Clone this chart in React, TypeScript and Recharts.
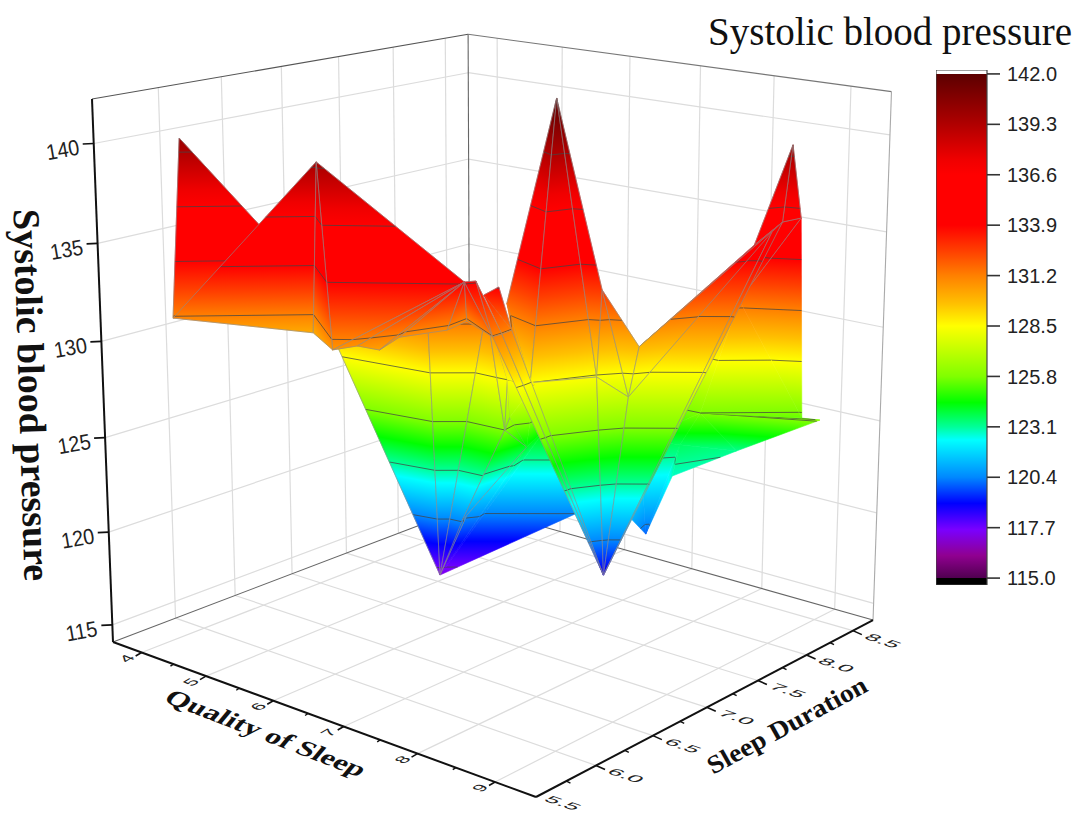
import { ScatterChart, Scatter, XAxis, YAxis, BarChart, Bar } from 'recharts'

// surface vertices
const vertexNames = ['a','b','a2','D','d1','d2','E','f1','f2','f3','f4','f5','E2','rb1','rb2','G','F','rbR',
  'P2','P1','t1','t2','t3','p5','b1','b2','b3','p6','h1','pb','hb','M','m0','v2','v3','mr',
  'c0','n0','q1','q2','s0','Q','r1','r0','u0','w2','R','m1','n1','w3','P3','h3','h4']
const quality = [3.98,4.06,5.15,5.64,5.10,5.99,6.97,6.13,6.20,6.28,6.47,6.44,7.03,7.13,7.13,7.09,7.37,7.11,
  7.95,6.10,5.05,6.34,6.81,6.30,6.95,6.96,7.02,6.78,7.36,7.21,6.76,6.94,6.64,7.27,7.62,7.57,
  7.85,7.93,8.81,8.73,8.63,8.98,9.01,8.99,8.40,8.16,9.33,8.25,8.08,7.80,7.98,7.48,7.96]
const duration = [5.93,5.80,6.40,6.12,6.37,6.03,6.54,6.15,6.29,6.41,6.70,6.89,6.60,6.68,6.76,6.63,6.58,6.86,
  7.14,6.85,6.60,6.61,6.83,6.93,6.90,6.94,6.88,7.21,6.90,7.47,7.39,7.37,7.12,6.92,7.29,7.37,
  7.43,7.47,8.20,8.16,8.06,8.15,8.23,8.31,8.10,7.91,8.22,8.22,7.70,7.98,7.52,7.81,7.34]
const pressure = [140.0,131.1,132.4,139.6,130.2,130.7,134.0,130.8,130.4,130.9,130.9,131.0,134.0,131.15,131.15,133.3,134.0,131.15,
  118.7,117.3,129.0,131.9,132.0,120.3,125.8,126.4,128.5,124.1,128.5,120.6,124.6,142.0,131.7,128.5,128.4,132.7,
  127.3,129.9,135.8,135.3,134.7,139.9,136.1,125.5,131.6,125.8,125.9,123.2,122.8,123.6,120.0,123.9,121.5]

// triangles, listed back to front; a leading ~ means no mesh outline
const facets = [
  '~P1 p5 p6','~p6 hb h1','~P1 pb hb','~P1 hb p6',
  '~P3 h4 h3','~P3 n1 w3','~P3 w3 h3','~h3 w3 w2','~w3 n1 m1','~w3 m1 w2','~w2 m1 R','~w2 R r0',
  '~u0 w2 h3','~u0 r1 r0','~u0 r0 w2','q1 r1 u0','Q q1 r1','s0 q1 Q','s0 q1 n0',
  'M m0 v2','~m0 rbR v2','M v2 v3','M v3 mr','mr v3 c0','mr c0 n0','v2 v3 P2','v3 c0 P2','n0 c0 q1','c0 q2 P2','q2 q1 P2',
  't1 P1 t2','t2 P1 t3','t3 P1 b1','P1 p5 b1','p5 p6 b1','b1 p6 b2','t3 b1 b3','b1 b2 b3','~b3 b2 h1','~b2 p6 h1','~t3 b3 h1',
  'a b a2','G F rbR','~G rbR rb2','b D d1','D E d2','D d1 d2','d2 E f1','f1 E f2','f2 E f3','f3 E f4','f4 E f5','f5 E rb1',
  'E E2 rb1','E2 rb2 rb1','rb1 rb2 P2','rb2 rbR P2',
]

const qualityTicks = [4, 5, 6, 7, 8, 9]
const qualityMinor = [4.5, 5.5, 6.5, 7.5, 8.5]
const durationTicks = [5.5, 6, 6.5, 7, 7.5, 8, 8.5]
const durationMinor = [5.75, 6.25, 6.75, 7.25, 7.75, 8.25]
const pressureTicks = [115, 120, 125, 130, 135, 140]
const scaleTicks = [115, 117.7, 120.4, 123.1, 125.8, 128.5, 131.2, 133.9, 136.6, 139.3, 142]

// colour scale
const colorLevels = [115, 116.2, 117.6, 119, 120.4, 122.4, 123.1, 124.4, 125.8, 128.5, 129.7, 131.2, 132.5, 133.9, 136.6, 137.4, 139.3, 142]
const colorValues = ['#500050', '#900090', '#7a00ff', '#0000ff', '#0088ff', '#00ffff', '#00ff99', '#00ff00', '#80ff00', '#ffff00',
  '#ffc000', '#ff8000', '#ff4000', '#ff0000', '#ff0000', '#f00000', '#b00000', '#5c0000']

// axis box and view
const Q0 = 3.54, Q1 = 9.51, D0 = 5.5, D1 = 8.726, Z0 = 114.07, Z1 = 142.2
const PA = -0.1297, PB = 0.158, PC = -0.05
const cornerL = [113, 642], cornerF = [536, 797], cornerB = [470, 506], cornerT = [92, 99]
const vecU = [(1 + PA) * cornerF[0] - cornerL[0], (1 + PA) * cornerF[1] - cornerL[1]]
const vecV = [(1 + PB) * cornerB[0] - cornerL[0], (1 + PB) * cornerB[1] - cornerL[1]]
const vecW = [(1 + PC) * cornerT[0] - cornerL[0], (1 + PC) * cornerT[1] - cornerL[1]]

function project(q: number, d: number, z: number) {
  const u = (q - Q0) / (Q1 - Q0), v = (d - D0) / (D1 - D0), w = (z - Z0) / (Z1 - Z0)
  const h = 1 + PA * u + PB * v + PC * w
  return {
    x: (cornerL[0] + u * vecU[0] + v * vecV[0] + w * vecW[0]) / h,
    y: (cornerL[1] + u * vecU[1] + v * vecV[1] + w * vecW[1]) / h,
  }
}

const noDot = () => <g />
const SANS = '"Liberation Sans", Arial, sans-serif'
const SERIF = '"Liberation Serif", "Times New Roman", serif'

// fills a triangle with the height colours and draws its contour lines
function facetLine(id: string, zs: number[], outlined: boolean) {
  return (props: any) => {
    const [p0, p1, p2] = props.points
    const det = (p1.x - p0.x) * (p2.y - p0.y) - (p2.x - p0.x) * (p1.y - p0.y)
    const ax = ((zs[1] - zs[0]) * (p2.y - p0.y) - (zs[2] - zs[0]) * (p1.y - p0.y)) / det
    const ay = ((p1.x - p0.x) * (zs[2] - zs[0]) - (p2.x - p0.x) * (zs[1] - zs[0])) / det
    const cx = (p0.x + p1.x + p2.x) / 3, cy = (p0.y + p1.y + p2.y) / 3, cz = (zs[0] + zs[1] + zs[2]) / 3
    const g2 = ax * ax + ay * ay
    const at = (z: number) => ({ x: cx + ((z - cz) * ax) / g2, y: cy + ((z - cz) * ay) / g2 })
    const g0 = at(115), g1 = at(142)
    const contours: any[] = []
    scaleTicks.slice(1, -1).forEach(level => {
      const cross: any[] = []
      ;[[0, 1], [1, 2], [2, 0]].forEach(([i, j]) => {
        if (zs[i] < level !== zs[j] < level) {
          const t = (level - zs[i]) / (zs[j] - zs[i])
          const pi = props.points[i], pj = props.points[j]
          cross.push({ x: pi.x + t * (pj.x - pi.x), y: pi.y + t * (pj.y - pi.y) })
        }
      })
      if (cross.length === 2) {
        contours.push(<line key={level} x1={cross[0].x} y1={cross[0].y} x2={cross[1].x} y2={cross[1].y} stroke="#444" strokeOpacity={0.75} strokeWidth={1} />)
      }
    })
    const corners = `${p0.x},${p0.y} ${p1.x},${p1.y} ${p2.x},${p2.y}`
    return (
      <g>
        <defs>
          <linearGradient id={id} gradientUnits="userSpaceOnUse" x1={g0.x} y1={g0.y} x2={g1.x} y2={g1.y}>
            {colorLevels.map((z, i) => (
              <stop key={z} offset={(z - 115) / 27} stopColor={colorValues[i]} />
            ))}
          </linearGradient>
        </defs>
        <polygon points={corners} fill={`url(#${id})`} stroke={`url(#${id})`} strokeWidth={0.6} />
        {contours}
        {outlined && <polygon points={corners} fill="none" stroke="#8c8c8c" strokeOpacity={0.7} strokeWidth={0.9} />}
      </g>
    )
  }
}

const zAt = (name: string) => pressure[vertexNames.indexOf(name)]
const pointAt = (name: string) => {
  const i = vertexNames.indexOf(name)
  return project(quality[i], duration[i], pressure[i])
}

// segments of the box
type Seg = { from: { x: number; y: number }; to: { x: number; y: number }; color: string; width: number }
const GRID = '#dcdcdc'
const segments: Seg[] = []
const seg = (from: any, to: any, color: string, width: number) => segments.push({ from, to, color, width })
durationTicks.slice(1).forEach(d => {
  seg(project(Q0, d, Z0), project(Q1, d, Z0), GRID, 1.2)
  seg(project(Q0, d, Z0), project(Q0, d, Z1), GRID, 1.2)
})
qualityTicks.forEach(q => {
  seg(project(q, D0, Z0), project(q, D1, Z0), GRID, 1.2)
  seg(project(q, D1, Z0), project(q, D1, Z1), GRID, 1.2)
})
pressureTicks.forEach(z => {
  seg(project(Q0, D0, z), project(Q0, D1, z), GRID, 1.2)
  seg(project(Q0, D1, z), project(Q1, D1, z), GRID, 1.2)
})
seg(project(Q0, D0, Z1), project(Q0, D1, Z1), '#555', 1.1)
seg(project(Q0, D1, Z1), project(Q1, D1, Z1), '#777', 1.1)
seg(project(Q0, D1, Z0), project(Q0, D1, Z1), '#666', 1.1)
seg(project(Q1, D1, Z0), project(Q1, D1, Z1), '#aaa', 1.1)
seg(project(Q0, D0, Z0), project(Q0, D1, Z0), '#666', 1.1)
seg(project(Q0, D1, Z0), project(Q1, D1, Z0), '#666', 1.1)

const off = (p: { x: number; y: number }, dx: number, dy: number) => ({ x: p.x + dx, y: p.y + dy })
const axisSegments: Seg[] = []
const aseg = (from: any, to: any, width: number) => axisSegments.push({ from, to, color: '#111', width })
aseg(project(Q0, D0, Z0), project(Q0, D0, Z1), 2)
aseg(project(Q0, D0, Z0), project(Q1, D0, Z0), 2)
aseg(project(Q1, D0, Z0), project(Q1, D1, Z0), 2)
pressureTicks.forEach(z => { const p = project(Q0, D0, z); aseg(p, off(p, -11, 0.5), 1.6) })
qualityTicks.forEach(q => { const p = project(q, D0, Z0); aseg(p, off(p, -6, 3.5), 1.6) })
qualityMinor.forEach(q => { const p = project(q, D0, Z0); aseg(p, off(p, -3, 2), 1.4) })
durationTicks.slice(1).forEach(d => { const p = project(Q1, d, Z0); aseg(p, off(p, 9, 4), 1.6) })
durationMinor.forEach(d => { const p = project(Q1, d, Z0); aseg(p, off(p, 4, 2), 1.4) })

const pressureLabels = pressureTicks.map(z => ({ ...off(project(Q0, D0, z), -31, 6), label: String(z) }))
const qualityLabels = qualityTicks.map(q => ({ ...off(project(q, D0, Z0), -15, 6), label: String(q) }))
// the first label sits against the bottom edge of the page
const durationLabels = durationTicks.map((d, i) => ({ ...off(project(Q1, d, Z0), i === 0 ? 27 : 30, i === 0 ? 6 : 10), label: d.toFixed(1) }))

const pressureLabel = (p: any) => (
  <text transform={`translate(${p.cx} ${p.cy}) rotate(-10) scale(0.9 1)`} textAnchor="middle" dominantBaseline="central" fontFamily={SANS} fontSize={22} fill="#222">{p.payload.label}</text>
)
const qualityLabel = (p: any) => (
  <text transform={`matrix(0.95 -0.55 0.85 0.34 ${p.cx} ${p.cy})`} textAnchor="middle" dominantBaseline="central" fontFamily={SANS} fontSize={17} fill="#222">{p.payload.label}</text>
)
const durationLabel = (p: any) => (
  <text transform={`matrix(1.2 0.4 -0.65 0.38 ${p.cx} ${p.cy})`} textAnchor="middle" dominantBaseline="central" fontFamily={SANS} fontSize={19} fill="#222">{p.payload.label}</text>
)

const scaleMin = 114.63, scaleMax = 142.21
const scaleData = [{ name: 'pressure', range: [scaleMin, scaleMax] }]
const scaleOffset = (z: number) => (scaleMax - z) / (scaleMax - scaleMin)

export default function App() {
  return (
    <div style={{ position: 'absolute', left: 0, top: 0, width: 1080, height: 814, background: '#fff', overflow: 'hidden' }}>
      <div style={{ position: 'absolute', left: 0, top: 0 }}>
        <ScatterChart width={1080} height={814} margin={{ top: 0, right: 0, bottom: 0, left: 0 }}>
          <XAxis dataKey="x" type="number" domain={[0, 1080]} hide />
          <YAxis dataKey="y" type="number" domain={[0, 814]} reversed hide />
          {segments.map((s, i) => (
            <Scatter key={`box-${i}`} data={[s.from, s.to]} line={{ stroke: s.color, strokeWidth: s.width }} shape={noDot} isAnimationActive={false} />
          ))}
          {axisSegments.map((s, i) => (
            <Scatter key={`axis-${i}`} data={[s.from, s.to]} line={{ stroke: s.color, strokeWidth: s.width }} shape={noDot} isAnimationActive={false} />
          ))}
          {facets.map((f, i) => {
            const outlined = !f.startsWith('~')
            const names = f.replace('~', '').split(' ')
            return (
              <Scatter key={`facet-${i}`} data={names.map(pointAt)} line={facetLine(`facet-${i}`, names.map(zAt), outlined)} shape={noDot} isAnimationActive={false} />
            )
          })}
          <Scatter data={pressureLabels} shape={pressureLabel} isAnimationActive={false} />
          <Scatter data={qualityLabels} shape={qualityLabel} isAnimationActive={false} />
          <Scatter data={durationLabels} shape={durationLabel} isAnimationActive={false} />
        </ScatterChart>
      </div>

      <div style={{ position: 'absolute', left: 936, top: 60 }}>
        <BarChart width={136} height={530} data={scaleData} margin={{ top: 10, right: 0, bottom: 5, left: 0 }} barCategoryGap={0}>
          <defs>
            <linearGradient id="scaleFill" x1="0" y1="0" x2="0" y2="1">
              <stop offset={0} stopColor="#fff" />
              <stop offset={scaleOffset(142)} stopColor="#fff" />
              {colorLevels.slice().reverse().map((z, i) => (
                <stop key={z} offset={scaleOffset(z)} stopColor={colorValues[colorValues.length - 1 - i]} />
              ))}
              <stop offset={scaleOffset(115)} stopColor="#000" />
              <stop offset={1} stopColor="#000" />
            </linearGradient>
          </defs>
          <XAxis dataKey="name" hide />
          <YAxis
            orientation="right"
            width={85}
            type="number"
            domain={[scaleMin, scaleMax]}
            ticks={scaleTicks}
            interval={0}
            allowDataOverflow
            axisLine={false}
            tickSize={13}
            tickMargin={7}
            tickLine={{ stroke: '#333', strokeWidth: 1.6 }}
            tick={{ fill: '#222', fontFamily: SANS, fontSize: 20 }}
            tickFormatter={(v: number) => v.toFixed(1)}
          />
          <Bar dataKey="range" fill="url(#scaleFill)" stroke="#444" strokeWidth={1.2} isAnimationActive={false} />
        </BarChart>
      </div>

      <svg width={1080} height={814} style={{ position: 'absolute', left: 0, top: 0, pointerEvents: 'none' }}>
        <text x={1072} y={45} textAnchor="end" fontFamily={SERIF} fontSize={39} fill="#111">Systolic blood pressure</text>
        <text transform="translate(32 395) rotate(88.3)" textAnchor="middle" dominantBaseline="central" fontFamily={SERIF} fontWeight="bold" fontSize={38} fill="#111">Systolic blood pressure</text>
        <text transform="matrix(0.93 0.36 -0.5 0.6 266 733)" textAnchor="middle" dominantBaseline="central" fontFamily={SERIF} fontWeight="bold" fontSize={31} fill="#111">Quality of Sleep</text>
        <text transform="matrix(0.87 -0.47 0.45 0.8 787 725)" textAnchor="middle" dominantBaseline="central" fontFamily={SERIF} fontWeight="bold" fontSize={28} fill="#111">Sleep Duration</text>
      </svg>
    </div>
  )
}
